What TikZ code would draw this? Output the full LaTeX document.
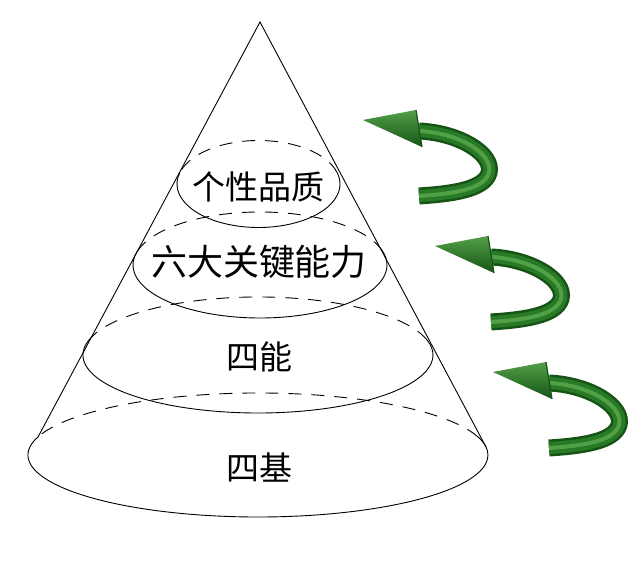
\documentclass[tikz,border=0pt]{standalone}
\usepackage{fontspec}
\newfontfamily\cjk{Noto Sans CJK SC}
\usepackage{tikz}
\usetikzlibrary{positioning,calc}
\definecolor{turndark}{RGB}{22,84,22}
\definecolor{turnmid}{RGB}{40,122,38}
\definecolor{turnlight}{RGB}{82,160,70}

\begin{document}
\begin{tikzpicture}[x=1pt,y=1pt,
    frontarc/.style={line width=0.9pt},
    backarc/.style={line width=0.9pt, dash pattern=on 13pt off 10pt},
    layer/.style={font=\cjk\fontsize{33}{33}\selectfont, inner sep=0pt}]
    \useasboundingbox (0,0) rectangle (641,575);

    \coordinate (apex) at (260,553);
    \coordinate (baseL) at (38,138);
    \coordinate (baseR) at (486,128);

    \draw [backarc] (258.5,391) ++(15:81.5 and 43.5) arc [start angle=15, end angle=165, x radius=81.5, y radius=43.5];
    \draw [frontarc] (258.5,391) ++(165:81.5 and 43.5) arc [start angle=165, end angle=375, x radius=81.5, y radius=43.5];
    \draw [backarc] (260,310) ++(15:127 and 53) arc [start angle=15, end angle=165, x radius=127, y radius=53];
    \draw [frontarc] (260,310) ++(165:127 and 53) arc [start angle=165, end angle=375, x radius=127, y radius=53];
    \draw [backarc] (258,220) ++(15:175 and 58) arc [start angle=15, end angle=165, x radius=175, y radius=58];
    \draw [frontarc] (258,220) ++(165:175 and 58) arc [start angle=165, end angle=375, x radius=175, y radius=58];
    \draw [backarc] (258,120) ++(17:230 and 62) arc [start angle=17, end angle=163, x radius=230, y radius=62];
    \draw [frontarc] (258,120) ++(163:230 and 62) arc [start angle=163, end angle=377, x radius=230, y radius=62];

    \draw [frontarc] (baseL) -- (apex) -- (baseR);

    \node [layer] (gexing) at (258.5,388) {个性品质};
    \node [layer, font=\cjk\fontsize{36}{36}\selectfont] (liuda) at (259,313) {六大关键能力};
    \node [layer] (sineng) at (259,218) {四能};
    \node [layer] (siji) at (259,107) {四基};

    \foreach \dx/\dy in {0/0, 72/-126, 130/-252} {
        \begin{scope}[shift={(\dx,\dy)}]
            \coordinate (neck) at (419,444);
            \coordinate (tail) at (419,379);
            \draw [turndark, line width=17pt] (neck) .. controls (461,442) and (494,420) .. (489,402) .. controls (484,385) and (450,381) .. (tail);
            \draw [turnmid, line width=12pt] (neck) .. controls (461,442) and (494,420) .. (489,402) .. controls (484,385) and (450,381) .. (tail);
            \draw [turnlight, line width=4pt] (neck) .. controls (461,442) and (494,420) .. (489,402) .. controls (484,385) and (450,381) .. (tail);
            \shade [top color=turnlight, bottom color=turndark] (363,455) -- (416,465) -- (422,428) -- cycle;
            \draw [turndark, line width=1.2pt] (416,465) -- (422,428);
        \end{scope}
    }
\end{tikzpicture}
\end{document}
